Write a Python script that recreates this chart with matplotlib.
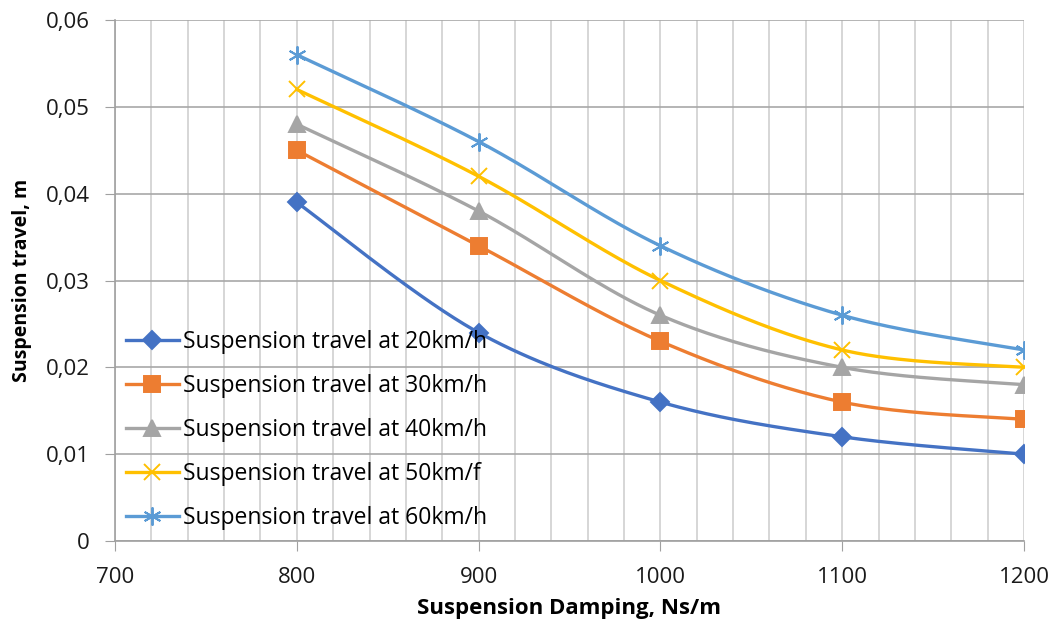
import matplotlib.pyplot as plt
import numpy as np
from matplotlib.ticker import FuncFormatter, MultipleLocator

plt.rcParams['font.family'] = ['Open Sans', 'DejaVu Sans']

damping = [800, 900, 1000, 1100, 1200]
travel_20 = [0.039, 0.024, 0.016, 0.012, 0.010]
travel_30 = [0.045, 0.034, 0.023, 0.016, 0.014]
travel_40 = [0.048, 0.038, 0.026, 0.020, 0.018]
travel_50 = [0.052, 0.042, 0.030, 0.022, 0.020]
travel_60 = [0.056, 0.046, 0.034, 0.026, 0.022]

labels = ['Suspension travel at 20km/h', 'Suspension travel at 30km/h',
          'Suspension travel at 40km/h', 'Suspension travel at 50km/f',
          'Suspension travel at 60km/h']
colors = ['#4472C4', '#ED7D31', '#A5A5A5', '#FFC000', '#5B9BD5']
markers = ['D', 's', '^', 'x', (6, 2, 0)]
msizes = [9, 12, 11, 12, 13]


def smooth(x, y, n=40):
    # bezier segments through every point, spreadsheet-style smoothing
    x = np.asarray(x, float)
    y = np.asarray(y, float)
    px = np.concatenate([[x[0]], x, [x[-1]]])
    py = np.concatenate([[y[0]], y, [y[-1]]])
    t = np.linspace(0, 1, n)[:, None]
    xs, ys = [], []
    for i in range(1, len(x)):
        p0 = np.array([px[i], py[i]])
        p3 = np.array([px[i + 1], py[i + 1]])
        c1 = p0 + (p3 - np.array([px[i - 1], py[i - 1]])) / 6
        c2 = p3 - (np.array([px[i + 2], py[i + 2]]) - p0) / 6
        seg = ((1 - t) ** 3) * p0 + 3 * ((1 - t) ** 2) * t * c1 \
            + 3 * (1 - t) * t ** 2 * c2 + t ** 3 * p3
        xs.append(seg[:, 0])
        ys.append(seg[:, 1])
    return np.concatenate(xs), np.concatenate(ys)


fig = plt.figure(figsize=(10.6, 6.25), dpi=100)
ax = fig.add_axes([0.1085, 0.1344, 0.8575, 0.8336])

series = [travel_20, travel_30, travel_40, travel_50, travel_60]
for vals, lab, c, m, ms in zip(series, labels, colors, markers, msizes):
    sx, sy = smooth(damping, vals)
    ax.plot(sx, sy, color=c, lw=2.4, zorder=3)
    ax.plot(damping, vals, linestyle='none', marker=m, ms=ms, color=c,
            mew=1.4, zorder=4)
    ax.plot([], [], color=c, lw=2.4, marker=m, ms=ms, mew=1.4, label=lab)

ax.set_xlim(700, 1200)
ax.set_ylim(0, 0.06)
ax.xaxis.set_major_locator(MultipleLocator(100))
ax.xaxis.set_minor_locator(MultipleLocator(20))
ax.yaxis.set_major_locator(MultipleLocator(0.01))
ax.yaxis.set_major_formatter(FuncFormatter(
    lambda v, p: '0' if abs(v) < 1e-9 else f'{v:.2f}'.replace('.', ',')))

ax.grid(True, axis='x', which='both', color='#D0D0D0', lw=1.2, zorder=0)
ax.grid(True, axis='y', which='major', color='#A8A8A8', lw=1.2, zorder=0)

for s in ['top', 'right']:
    ax.spines[s].set_visible(False)
for s in ['left', 'bottom']:
    ax.spines[s].set_color('#A0A0A0')
    ax.spines[s].set_linewidth(1.2)

ax.tick_params(axis='both', which='major', direction='out', length=7,
               color='#A0A0A0', labelsize=16, labelcolor='#1a1a1a')
ax.tick_params(axis='x', which='major', pad=12)
ax.tick_params(axis='y', which='major', pad=11)
ax.tick_params(axis='x', which='minor', length=0)

ax.set_xlabel('Suspension Damping, Ns/m', fontsize=16, fontweight='bold',
              labelpad=7)
ax.set_ylabel('Suspension travel, m', fontsize=14, fontweight='bold',
              labelpad=10)

ax.legend(loc='lower left', bbox_to_anchor=(-0.003, -0.005), frameon=False,
          fontsize=16.5, handlelength=2.3, handletextpad=0.2,
          labelspacing=0.87, borderaxespad=0.2)

fig.savefig('out.png', dpi=100)
